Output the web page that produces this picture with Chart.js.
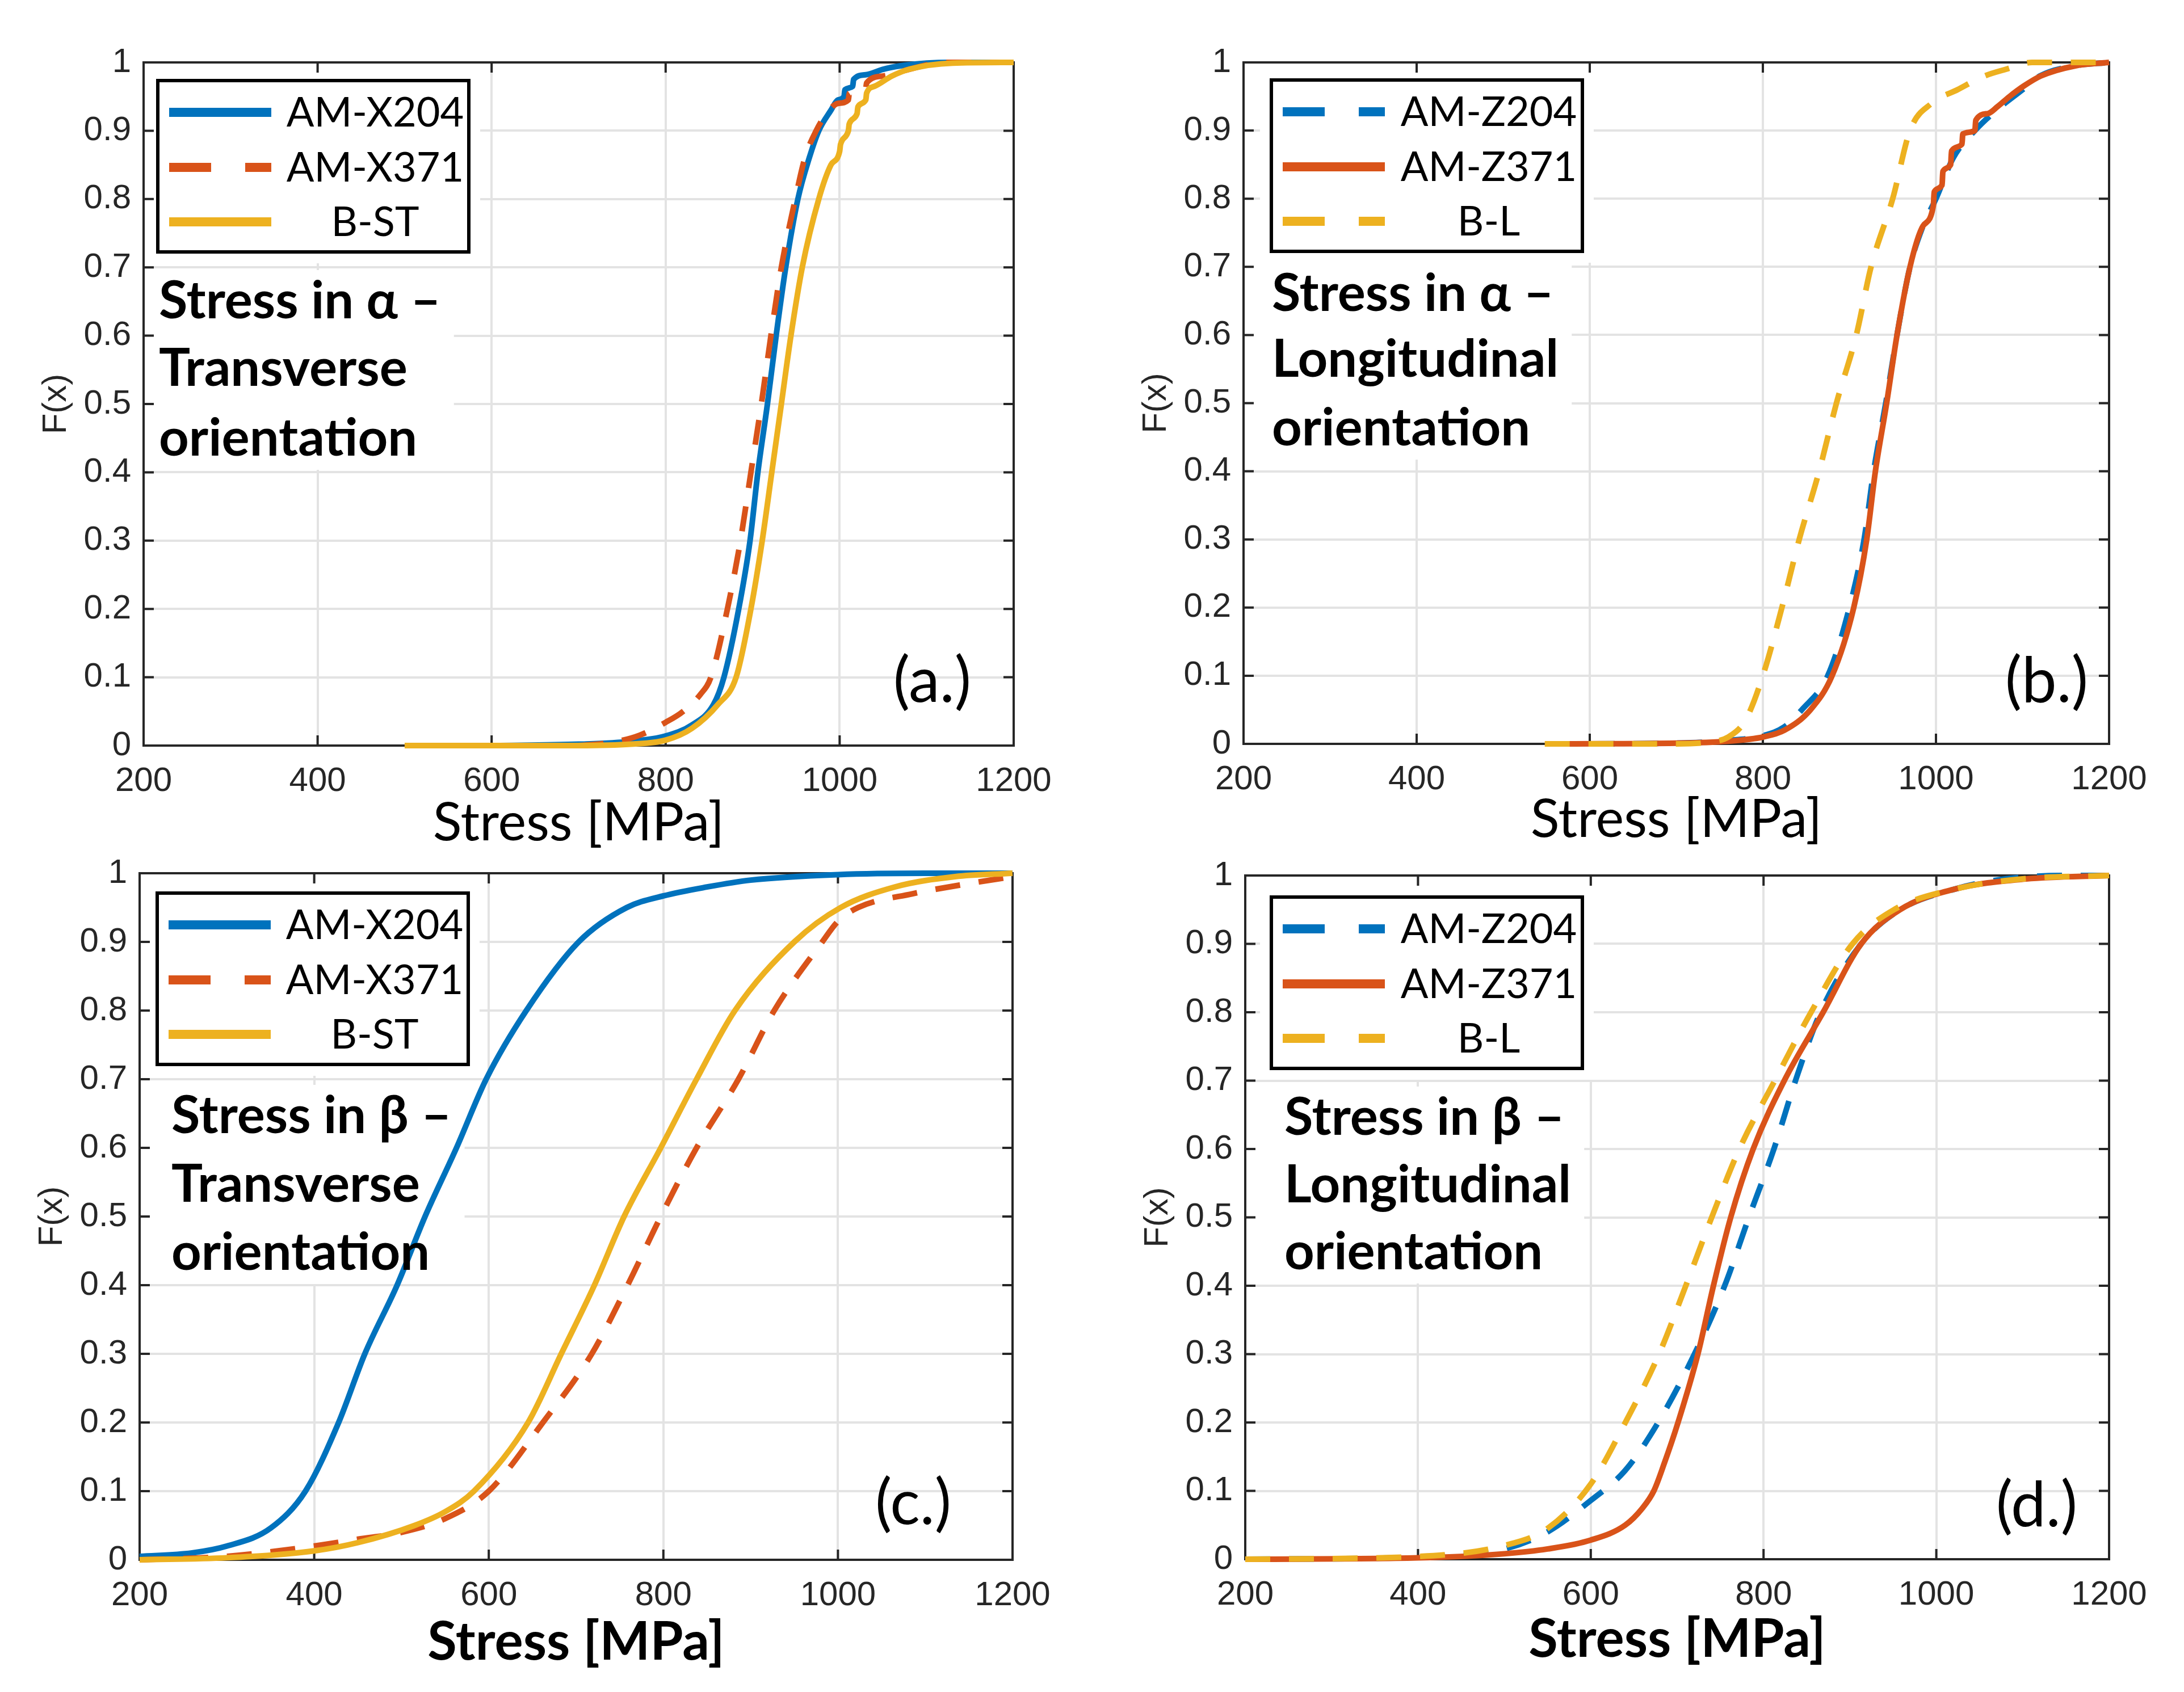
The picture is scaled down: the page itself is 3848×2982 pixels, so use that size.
<!DOCTYPE html>
<html>
<head>
<meta charset="utf-8">
<script src="https://cdn.jsdelivr.net/npm/chart.js@4.4.0/dist/chart.umd.min.js"></script>
<style>
html, body { margin: 0; padding: 0; background: #fff; }
body { width: 3848px; height: 2982px; position: relative; overflow: hidden; }
canvas { position: absolute; }
</style>
</head>
<body>
<canvas id="chartA"></canvas>
<canvas id="chartB"></canvas>
<canvas id="chartC"></canvas>
<canvas id="chartD"></canvas>
<script>
// axis ticks
const xTickValues = [200, 400, 600, 800, 1000, 1200];
const xTickLabels = ['200', '400', '600', '800', '1000', '1200'];
const yTickValues = [0, 0.1, 0.2, 0.3, 0.4, 0.5, 0.6, 0.7, 0.8, 0.9, 1];
const yTickLabels = ['0', '0.1', '0.2', '0.3', '0.4', '0.5', '0.6', '0.7', '0.8', '0.9', '1'];

const namesX = ['AM-X204', 'AM-X371', 'B-ST'];
const namesZ = ['AM-Z204', 'AM-Z371', 'B-L'];

const noteAlphaT = ['Stress in α –', 'Transverse', 'orientation'];
const noteAlphaL = ['Stress in α –', 'Longitudinal', 'orientation'];
const noteBetaT = ['Stress in β –', 'Transverse', 'orientation'];
const noteBetaL = ['Stress in β –', 'Longitudinal', 'orientation'];

// (a) alpha, transverse
const aX204Stress = [600, 700, 760, 800, 830, 855, 867, 884, 897, 906, 917, 927, 938, 952, 965, 976, 990, 998, 1005, 1006, 1015, 1016, 1030, 1050, 1070, 1100, 1130, 1200];
const aX204F = [0, 0.002, 0.006, 0.014, 0.03, 0.06, 0.1, 0.2, 0.3, 0.4, 0.5, 0.6, 0.7, 0.8, 0.86, 0.9, 0.93, 0.945, 0.95, 0.96, 0.965, 0.975, 0.982, 0.99, 0.995, 0.999, 1, 1];
const aX371Stress = [700, 740, 770, 800, 820, 840, 852, 871, 886, 898, 910, 921, 933, 949, 960, 973, 985, 998, 1010, 1011, 1030, 1031, 1050, 1080, 1120, 1200];
const aX371F = [0, 0.005, 0.015, 0.034, 0.05, 0.075, 0.1, 0.2, 0.3, 0.4, 0.5, 0.6, 0.7, 0.8, 0.86, 0.9, 0.925, 0.94, 0.945, 0.955, 0.962, 0.97, 0.98, 0.99, 1, 1];
const aBSTStress = [500, 700, 760, 800, 830, 860, 881, 898, 911, 922, 933, 944, 957, 976, 990, 1000, 1001, 1010, 1011, 1020, 1021, 1030, 1031, 1040, 1060, 1080, 1130, 1200];
const aBSTF = [0, 0, 0.002, 0.008, 0.025, 0.06, 0.1, 0.2, 0.3, 0.4, 0.5, 0.6, 0.7, 0.8, 0.85, 0.87, 0.88, 0.9, 0.91, 0.925, 0.935, 0.945, 0.955, 0.965, 0.98, 0.99, 0.999, 1];

// (b) alpha, longitudinal
const bZ204Stress = [600, 700, 760, 800, 825, 845, 875, 900, 917, 928, 942, 955, 970, 985, 1000, 1020, 1045, 1070, 1100, 1120, 1160, 1200];
const bZ204F = [0, 0.001, 0.005, 0.012, 0.025, 0.05, 0.1, 0.2, 0.3, 0.4, 0.5, 0.6, 0.7, 0.76, 0.8, 0.86, 0.9, 0.93, 0.96, 0.98, 0.995, 1];
const bZ371Stress = [575, 700, 760, 800, 825, 855, 880, 905, 920, 930, 943, 955, 970, 985, 997, 998, 1007, 1008, 1017, 1018, 1030, 1031, 1045, 1046, 1060, 1071, 1085, 1101, 1121, 1161, 1200];
const bZ371F = [0, 0.001, 0.004, 0.01, 0.02, 0.05, 0.1, 0.2, 0.3, 0.4, 0.5, 0.6, 0.7, 0.76, 0.79, 0.81, 0.82, 0.84, 0.85, 0.87, 0.88, 0.895, 0.9, 0.915, 0.925, 0.935, 0.95, 0.965, 0.98, 0.995, 1];
const bBLStress = [548, 700, 740, 760, 780, 800, 822, 842, 865, 885, 908, 925, 950, 970, 995, 1025, 1056, 1081, 1111, 1200];
const bBLF = [0, 0, 0.003, 0.01, 0.035, 0.1, 0.2, 0.3, 0.4, 0.5, 0.6, 0.7, 0.8, 0.9, 0.94, 0.96, 0.98, 0.99, 1, 1];

// (c) beta, transverse
const cX204Stress = [200, 260, 300, 350, 390, 428, 458, 495, 527, 563, 597, 643, 703, 758, 800, 850, 900, 1000, 1100, 1200];
const cX204F = [0.005, 0.01, 0.02, 0.046, 0.1, 0.2, 0.3, 0.4, 0.5, 0.6, 0.7, 0.8, 0.9, 0.95, 0.967, 0.98, 0.99, 0.998, 1, 1];
const cX371Stress = [200, 300, 400, 450, 500, 550, 600, 662, 718, 759, 797, 838, 886, 927, 982, 1000, 1023, 1085, 1150, 1200];
const cX371F = [0, 0.005, 0.02, 0.03, 0.04, 0.06, 0.1, 0.2, 0.3, 0.4, 0.5, 0.6, 0.7, 0.8, 0.9, 0.93, 0.95, 0.97, 0.985, 0.995];
const cBSTStress = [200, 300, 400, 450, 515, 550, 583, 645, 683, 721, 755, 797, 838, 882, 950, 1003, 1065, 1134, 1200];
const cBSTF = [0, 0.003, 0.013, 0.025, 0.05, 0.07, 0.1, 0.2, 0.3, 0.4, 0.5, 0.6, 0.7, 0.8, 0.9, 0.95, 0.98, 0.995, 1];

// (d) beta, longitudinal
const dZ204Stress = [200, 400, 500, 550, 600, 640, 678, 720, 755, 783, 812, 837, 866, 913, 958, 1021, 1080, 1150, 1200];
const dZ204F = [0, 0.003, 0.015, 0.04, 0.086, 0.13, 0.2, 0.3, 0.4, 0.5, 0.6, 0.7, 0.8, 0.9, 0.95, 0.98, 0.995, 1, 1];
const dZ371Stress = [200, 400, 500, 550, 600, 640, 660, 673, 685, 701, 724, 742, 762, 788, 824, 869, 913, 958, 1021, 1104, 1200];
const dZ371F = [0, 0.002, 0.008, 0.015, 0.028, 0.05, 0.075, 0.1, 0.14, 0.2, 0.3, 0.4, 0.5, 0.6, 0.7, 0.8, 0.9, 0.95, 0.98, 0.995, 1];
const dBLStress = [200, 400, 500, 550, 600, 640, 679, 710, 740, 772, 813, 855, 903, 951, 1021, 1100, 1200];
const dBLF = [0, 0.004, 0.02, 0.045, 0.11, 0.2, 0.3, 0.4, 0.5, 0.6, 0.7, 0.8, 0.9, 0.95, 0.98, 0.995, 1];

const BLUE = '#0072BD', ORANGE = '#D95319', YELLOW = '#EDB120';
const AXIS = '#262626';
const SANS = '"Liberation Sans", Arial, sans-serif';
const CAL = 'Lato, Carlito, "Open Sans", "Noto Sans", sans-serif';

const panels = [
  { canvas: 'chartA', L: 253, R: 1786, T: 110, B: 1314,
    names: namesX, colors: [BLUE, ORANGE, YELLOW], dashed: [false, true, false],
    stress: [aX204Stress, aX371Stress, aBSTStress], F: [aX204F, aX371F, aBSTF],
    boldTitle: false, titlePad: 27,
    note: noteAlphaT, noteX: 27, noteY: [451, 570, 693],
    legX: 25, legY: 32, tag: '(a.)', tagR: 75, tagB: 77 },
  { canvas: 'chartB', L: 2191, R: 3716, T: 110, B: 1311,
    names: namesZ, colors: [BLUE, ORANGE, YELLOW], dashed: [true, false, true],
    stress: [bZ204Stress, bZ371Stress, bBLStress], F: [bZ204F, bZ371F, bBLF],
    boldTitle: false, titlePad: 30,
    note: noteAlphaL, noteX: 50, noteY: [438, 554, 675],
    legX: 49, legY: 31, tag: '(b.)', tagR: 37, tagB: 74 },
  { canvas: 'chartC', L: 246, R: 1784, T: 1539, B: 2749,
    names: namesX, colors: [BLUE, ORANGE, YELLOW], dashed: [false, true, false],
    stress: [cX204Stress, cX371Stress, cBSTStress], F: [cX204F, cX371F, cBSTF],
    boldTitle: true, titlePad: 18,
    note: noteBetaT, noteX: 56, noteY: [458, 579, 699],
    legX: 31, legY: 35, tag: '(c.)', tagR: 108, tagB: 63 },
  { canvas: 'chartD', L: 2194, R: 3716, T: 1543, B: 2748,
    names: namesZ, colors: [BLUE, ORANGE, YELLOW], dashed: [true, false, true],
    stress: [dZ204Stress, dZ371Stress, dBLStress], F: [dZ204F, dZ371F, dBLF],
    boldTitle: true, titlePad: 22,
    note: noteBetaL, noteX: 69, noteY: [457, 576, 694],
    legX: 46, legY: 38, tag: '(d.)', tagR: 56, tagB: 58 }
];

const YW = 240, XH = 220, PT = 80, PR = 100;
const LEG_W = 548, LEG_H = 302, LEG_ROWS = [56, 153, 249];
const NOTE_FONT = 'bold 92px ' + CAL;

function overlay(p) {
  return {
    id: 'overlay' + p.canvas,
    beforeDatasetsDraw(chart) {
      const ctx = chart.ctx;
      const a = chart.chartArea;
      ctx.save();
      ctx.fillStyle = '#fff';
      // blank grid behind legend and the note
      ctx.fillRect(a.left + p.legX - 20, a.top + p.legY - 20, LEG_W + 40, LEG_H + 40);
      ctx.font = NOTE_FONT;
      let w = 0;
      p.note.forEach(t => { w = Math.max(w, ctx.measureText(t).width); });
      ctx.fillRect(a.left + 3, a.top + p.noteY[0] - 85, p.noteX + w + 20, p.noteY[2] - p.noteY[0] + 110);
      // axes box with inward ticks
      ctx.strokeStyle = AXIS;
      ctx.lineWidth = 4;
      ctx.strokeRect(a.left, a.top, a.right - a.left, a.bottom - a.top);
      const xs = chart.scales.x, ys = chart.scales.y;
      ctx.beginPath();
      xTickValues.forEach(v => {
        const px = xs.getPixelForValue(v);
        ctx.moveTo(px, a.bottom); ctx.lineTo(px, a.bottom - 18);
        ctx.moveTo(px, a.top); ctx.lineTo(px, a.top + 18);
      });
      yTickValues.forEach(v => {
        const py = ys.getPixelForValue(v);
        ctx.moveTo(a.left, py); ctx.lineTo(a.left + 18, py);
        ctx.moveTo(a.right, py); ctx.lineTo(a.right - 18, py);
      });
      ctx.stroke();
      ctx.restore();
    },
    afterDatasetsDraw(chart) {
      const ctx = chart.ctx;
      const a = chart.chartArea;
      ctx.save();
      // legend
      const lx = a.left + p.legX, ly = a.top + p.legY;
      ctx.fillStyle = '#fff';
      ctx.fillRect(lx, ly, LEG_W, LEG_H);
      ctx.lineWidth = 6;
      ctx.strokeStyle = '#000';
      ctx.strokeRect(lx, ly, LEG_W, LEG_H);
      p.names.forEach((n, i) => {
        const yy = ly + LEG_ROWS[i];
        ctx.beginPath();
        ctx.setLineDash(p.dashed[i] ? [74, 60] : []);
        ctx.lineWidth = 16;
        ctx.lineCap = 'butt';
        ctx.strokeStyle = p.colors[i];
        ctx.moveTo(lx + 20, yy);
        ctx.lineTo(lx + 200, yy);
        ctx.stroke();
        ctx.setLineDash([]);
        ctx.fillStyle = '#000';
        ctx.font = '72px ' + CAL;
        ctx.textAlign = 'center';
        ctx.textBaseline = 'middle';
        ctx.fillText(n, lx + 383, yy + 2);
      });
      // note
      ctx.font = NOTE_FONT;
      ctx.fillStyle = '#000';
      ctx.textAlign = 'left';
      ctx.textBaseline = 'alphabetic';
      p.note.forEach((t, i) => ctx.fillText(t, a.left + p.noteX, a.top + p.noteY[i]));
      // panel tag
      ctx.font = '110px ' + CAL;
      ctx.textAlign = 'right';
      ctx.fillText(p.tag, a.right - p.tagR, a.bottom - p.tagB);
      ctx.restore();
    }
  };
}

panels.forEach(p => {
  const el = document.getElementById(p.canvas);
  const W = p.R - p.L + YW + PR;
  const H = p.B - p.T + PT + XH;
  el.width = W; el.height = H;
  el.style.width = W + 'px'; el.style.height = H + 'px';
  el.style.left = (p.L - YW) + 'px';
  el.style.top = (p.T - PT) + 'px';

  const datasets = p.names.map((n, i) => ({
    label: n,
    data: p.stress[i].map((s, k) => ({ x: s, y: p.F[i][k] })),
    borderColor: p.colors[i],
    backgroundColor: p.colors[i],
    borderWidth: 10,
    borderDash: p.dashed[i] ? [44, 33] : [],
    pointRadius: 0,
    cubicInterpolationMode: 'monotone',
    fill: false,
    clip: false,
    order: 3 - i
  }));

  new Chart(el, {
    type: 'line',
    data: { datasets },
    options: {
      responsive: false,
      animation: false,
      devicePixelRatio: 1,
      layout: { padding: { left: 0, top: PT, right: PR, bottom: 0 } },
      plugins: { legend: { display: false }, tooltip: { enabled: false } },
      scales: {
        x: {
          type: 'linear', min: 200, max: 1200,
          afterBuildTicks: s => { s.ticks = xTickValues.map(v => ({ value: v })); },
          afterFit: s => { s.height = XH; },
          grid: { color: '#e3e3e3', lineWidth: 4, drawTicks: false },
          border: { display: false },
          ticks: { color: AXIS, padding: 27, maxRotation: 0, font: { family: SANS, size: 60 },
                   callback: (v, i) => xTickLabels[i] },
          title: {
            display: true, text: 'Stress [MPa]', color: '#000',
            font: { family: CAL, size: 94, weight: p.boldTitle ? 'bold' : 'normal' },
            padding: { top: 0, bottom: p.titlePad }
          }
        },
        y: {
          type: 'linear', min: 0, max: 1,
          afterBuildTicks: s => { s.ticks = yTickValues.map(v => ({ value: v })); },
          afterFit: s => { s.width = YW; },
          grid: { color: '#e3e3e3', lineWidth: 4, drawTicks: false },
          border: { display: false },
          ticks: { color: AXIS, padding: 22, font: { family: SANS, size: 60 },
                   callback: (v, i) => yTickLabels[i] },
          title: {
            display: true, text: 'F(x)', color: AXIS,
            font: { family: SANS, size: 60 },
            padding: { top: 50, bottom: 0 }
          }
        }
      }
    },
    plugins: [overlay(p)]
  });
});
</script>
</body>
</html>
